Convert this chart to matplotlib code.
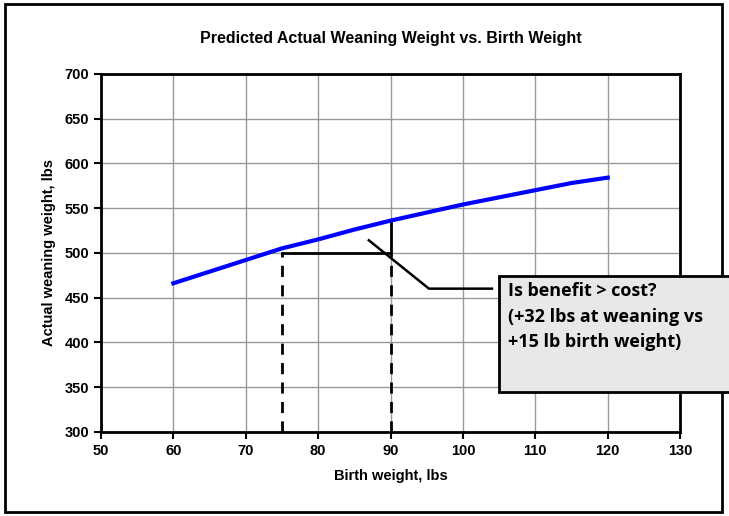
import matplotlib
matplotlib.use('Agg')
import matplotlib.pyplot as plt
from matplotlib.patches import Rectangle

birth_wt = [60, 65, 70, 75, 80, 85, 90, 95, 100, 105, 110, 115, 120]
wean_wt = [466, 479, 492, 505, 515, 526, 536, 545, 554, 562, 570, 578, 584]
x_ticks = list(range(50, 131, 10))
y_ticks = list(range(300, 701, 50))

plt.rcParams['font.family'] = ['Liberation Sans', 'DejaVu Sans']
plt.rcParams['font.weight'] = 'bold'

fig = plt.figure(figsize=(7.29, 5.16), dpi=100)
fig.patches.append(Rectangle((0.007, 0.008), 0.984, 0.984, transform=fig.transFigure,
                             fill=False, edgecolor='black', linewidth=2))
ax = fig.add_axes([0.1385, 0.163, 0.7945, 0.694])

ax.plot(birth_wt, wean_wt, color='#0000ff', linewidth=3, zorder=3)

# guide lines
ax.plot([75, 75], [300, 500], color='black', linestyle=(0, (4, 3)), linewidth=2)
ax.plot([90, 90], [300, 500], color='black', linestyle=(0, (4, 3)), linewidth=2)
ax.plot([75, 90], [500, 500], color='black', linewidth=2)
ax.plot([90, 90], [500, 536], color='black', linewidth=2)
# callout leader
ax.plot([87, 95.3, 104], [514, 460, 460], color='black', linewidth=1.8, clip_on=False)

ax.set_xlim(50, 130)
ax.set_ylim(300, 700)
ax.set_xticks(x_ticks)
ax.set_yticks(y_ticks)
ax.grid(True, color='#999999', linewidth=1)
ax.set_axisbelow(True)
for s in ax.spines.values():
    s.set_linewidth(2)
ax.tick_params(labelsize=10.5, width=1.5, length=5)
for lab in ax.get_xticklabels() + ax.get_yticklabels():
    lab.set_fontweight('bold')

ax.set_xlabel('Birth weight, lbs', fontsize=10.5, fontweight='bold', labelpad=8)
ax.set_ylabel('Actual weaning weight, lbs', fontsize=10.5, fontweight='bold', labelpad=6)
ax.set_title('Predicted Actual Weaning Weight vs. Birth Weight', fontsize=11.5,
             fontweight='bold', pad=22)

# text box
fig.patches.append(Rectangle((499 / 729, 1 - 392 / 516), 232 / 729, 116 / 516,
                             transform=fig.transFigure, facecolor='#e8e8e8',
                             edgecolor='black', linewidth=2, zorder=5))
fig.text(508 / 729, 1 - 282 / 516,
         'Is benefit > cost?\n(+32 lbs at weaning vs\n+15 lb birth weight)',
         fontsize=13, fontweight='bold', family=['Open Sans', 'DejaVu Sans'],
         va='top', ha='left', linespacing=1.55, zorder=6)

fig.savefig('out.png', dpi=100)
